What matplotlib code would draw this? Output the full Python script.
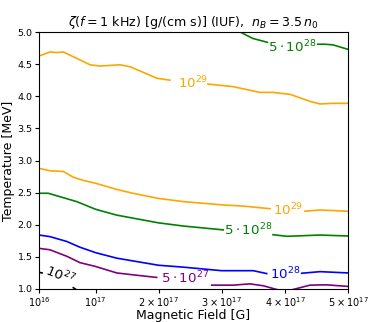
import numpy as np
import matplotlib
matplotlib.use("Agg")
import matplotlib.pyplot as plt

nan = np.nan
# Contour lines: magnetic field in units of 1e17 G, temperature in MeV (NaN = label gap)
orange_hi_B = [0.1, 0.274, 0.381, 0.485, 0.909, 1.067, 1.384, 1.543, 1.971, 2.177, nan, 2.78, 3.176, 3.605, 3.81, 4.08, 4.40, 4.556, 4.76, 5.0]
orange_hi_T = [4.626, 4.69, 4.68, 4.69, 4.49, 4.47, 4.49, 4.46, 4.28, 4.25, nan, 4.19, 4.15, 4.06, 4.06, 4.03, 3.92, 3.88, 3.89, 3.89]
green_hi_B = [3.2, 3.29, 3.49, 3.72, nan, 4.52, 4.635, 4.76, 5.0]
green_hi_T = [5.05, 5.0, 4.90, 4.84, nan, 4.81, 4.81, 4.80, 4.73]
orange_lo_B = [0.1, 0.274, 0.485, 0.644, 0.803, 0.999, 1.332, 1.59, 1.992, 2.388, 2.997, 3.34, 3.763, nan, 4.318, 4.556, 5.0]
orange_lo_T = [2.879, 2.84, 2.83, 2.74, 2.69, 2.645, 2.55, 2.49, 2.41, 2.36, 2.31, 2.29, 2.25, nan, 2.21, 2.23, 2.21]
green_lo_B = [0.1, 0.247, 0.698, 0.999, 1.332, 1.992, 2.388, 3.022, nan, 3.811, 4.033, 4.556, 5.0]
green_lo_T = [2.49, 2.49, 2.36, 2.24, 2.15, 2.03, 1.98, 1.92, nan, 1.845, 1.82, 1.84, 1.825]
blue_B = [0.1, 0.274, 0.539, 0.75, 0.999, 1.332, 1.992, 2.388, 2.997, 3.498, 3.711, nan, 4.266, 4.556, 5.0]
blue_T = [1.84, 1.815, 1.74, 1.65, 1.565, 1.48, 1.37, 1.34, 1.285, 1.285, 1.24, nan, 1.245, 1.27, 1.25]
purple_B = [0.1, 0.274, 0.539, 0.75, 0.999, 1.332, 1.595, 1.966, nan, 2.839, 3.181, 3.446, 3.657, 3.842, 4.0, 4.16, 4.397, 4.662, 5.0]
purple_T = [1.633, 1.61, 1.51, 1.41, 1.35, 1.25, 1.22, 1.18, nan, 1.06, 1.06, 1.08, 1.05, 1.0, 0.96, 1.0, 1.06, 1.065, 1.04]
black_B = [0.1, 0.148, nan, 0.644, 0.698]
black_T = [1.26, 1.25, nan, 1.02, 0.985]

labels = [r'$10^{29}$', r'$5\cdot10^{28}$', r'$10^{29}$', r'$5\cdot10^{28}$', r'$10^{28}$', r'$5\cdot10^{27}$', r'$10^{27}$']
label_B = [2.54, 4.11, 4.05, 3.41, 4.0, 2.415, 0.433]
label_T = [4.206, 4.77, 2.23, 1.92, 1.233, 1.167, 1.218]

xtick_vals = [0.1, 1, 2, 3, 4, 5]
xtick_labels = [r'$10^{16}$', r'$10^{17}$', r'$2\times10^{17}$', r'$3\times10^{17}$', r'$4\times10^{17}$', r'$5\times10^{17}$']
ytick_vals = [1.0, 1.5, 2.0, 2.5, 3.0, 3.5, 4.0, 4.5, 5.0]

SCALE = 1e17

fig = plt.figure(figsize=(3.87, 3.22), dpi=100)
ax = fig.add_axes([0.1008, 0.1025, 0.7984, 0.7981])

lines = [
    (orange_hi_B, orange_hi_T, 'orange'),
    (green_hi_B, green_hi_T, 'green'),
    (orange_lo_B, orange_lo_T, 'orange'),
    (green_lo_B, green_lo_T, 'green'),
    (blue_B, blue_T, 'blue'),
    (purple_B, purple_T, 'purple'),
    (black_B, black_T, 'black'),
]
for b, t, c in lines:
    ax.plot(np.array(b) * SCALE, t, color=c, lw=1.2)

label_colors = ['orange', 'green', 'orange', 'green', 'blue', 'purple', 'black']
label_rot = [0, 0, 0, 0, 0, 0, -22]
for s, b, t, c, r in zip(labels, label_B, label_T, label_colors, label_rot):
    ax.text(b * SCALE, t, s, color=c, fontsize=9.6, ha='center', va='center', rotation=r)

ax.set_xlim(0.1 * SCALE, 5 * SCALE)
ax.set_ylim(1.0, 5.0)
ax.set_xticks([v * SCALE for v in xtick_vals])
ax.set_xticklabels(xtick_labels, fontsize=7.0)
ax.set_yticks(ytick_vals)
ax.set_yticklabels([f'{v:.1f}' for v in ytick_vals], fontsize=6.8)
ax.tick_params(length=3, pad=1.5)
ax.set_xlabel('Magnetic Field [G]', fontsize=9)
ax.xaxis.set_label_coords(0.5, -0.076)
ax.set_ylabel('Temperature [MeV]', fontsize=9, labelpad=2)
ax.set_title(r'$\zeta(f=1$ kHz) [g/(cm s)] (IUF),  $n_B=3.5\,n_0$', fontsize=9.1, pad=4)

fig.savefig('out.png', dpi=100)
